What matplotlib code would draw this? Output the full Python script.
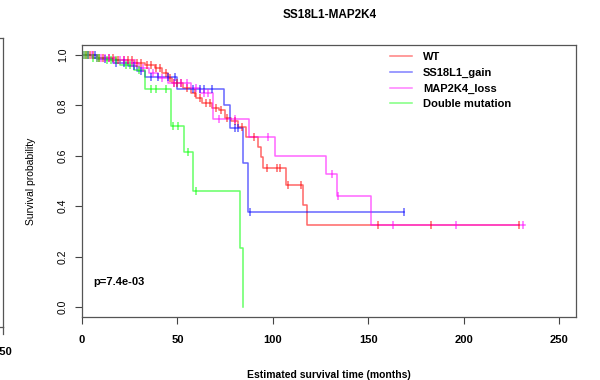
"""Kaplan-Meier curves for SS18L1 / MAP2K4 groups."""

import matplotlib

matplotlib.use("Agg")
import matplotlib.pyplot as plt
import numpy as np
from matplotlib.lines import Line2D

plt.rcParams["font.family"] = ["Liberation Sans", "DejaVu Sans"]

# ---- data (months, survival after each drop) ----
wt_times = [0, 8, 18, 27, 33, 38, 42, 45, 47, 53, 57, 60, 63, 68, 72, 75, 78, 82, 86, 92, 94, 95, 107, 116, 118]
wt_surv = [1.0, 0.99, 0.98, 0.97, 0.96, 0.95, 0.93, 0.91, 0.89, 0.87, 0.85, 0.83, 0.81, 0.79, 0.78, 0.75,
           0.74, 0.715, 0.675, 0.635, 0.595, 0.55, 0.485, 0.405, 0.325]
wt_end = 229
wt_cens = [2, 4, 6, 9, 11, 14, 16, 19, 22, 24, 26, 29, 31, 34, 36, 39, 41, 44, 46, 48, 50, 52, 55, 59,
           62, 65, 67, 70, 73, 76, 80, 84, 90, 97, 102, 104, 108, 115, 155, 183, 229]

gain_times = [0, 8, 16, 24, 29, 33, 50, 74.4, 77.6, 84.4, 87]
gain_surv = [1.0, 0.985, 0.97, 0.955, 0.935, 0.913, 0.865, 0.80, 0.71, 0.57, 0.377]
gain_end = 169
gain_cens = [3, 7, 12, 18, 22, 27, 31, 36, 40, 45, 49, 58, 62, 64, 68, 80, 82, 88, 169]

loss_times = [0, 6, 15, 24, 30, 35, 40, 45, 57, 62, 68.7, 87.5, 101, 128, 133.6, 151.5]
loss_surv = [1.0, 0.99, 0.98, 0.97, 0.95, 0.93, 0.91, 0.89, 0.87, 0.85, 0.746, 0.675, 0.60, 0.528, 0.44, 0.325]
loss_end = 232
loss_cens = [1, 3, 5, 8, 10, 12, 14, 17, 20, 22, 26, 28, 32, 37, 42, 48, 52, 55, 60, 64, 66, 72, 80,
             97.5, 131, 134, 163, 196, 231]

dbl_times = [0, 5, 12, 20, 27, 33, 46.6, 53.5, 58, 82.8, 84.4]
dbl_surv = [1.0, 0.99, 0.98, 0.96, 0.94, 0.865, 0.718, 0.615, 0.46, 0.234, 0.0]
dbl_end = 84.4
dbl_cens = [1, 2, 3, 6, 8, 9, 13, 15, 18, 23, 25, 30, 36, 39, 44, 47.7, 50.3, 55.6, 59.7]

groups = ["WT", "SS18L1_gain", "MAP2K4_loss", "Double mutation"]
colors = ["#FF0000", "#0000FF", "#FF00FF", "#00FF00"]
p_text = "p=7.4e-03"
x_ticks = [0, 50, 100, 150, 200, 250]
y_ticks = [0.0, 0.2, 0.4, 0.6, 0.8, 1.0]

series = [
    (wt_times, wt_surv, wt_end, wt_cens),
    (gain_times, gain_surv, gain_end, gain_cens),
    (loss_times, loss_surv, loss_end, loss_cens),
    (dbl_times, dbl_surv, dbl_end, dbl_cens),
]

W, H = 600, 380
fig = plt.figure(figsize=(W / 100, H / 100), dpi=100)
ax = fig.add_axes([82 / W, 1 - 317 / H, (576 - 82) / W, (317 - 45) / H])

for (times, surv, end, cens), col in zip(series, colors):
    t = np.array(list(times) + [end], dtype=float)
    s = np.array(list(surv) + [surv[-1]], dtype=float)
    ax.step(t, s, where="post", color=col, lw=1.1, alpha=0.6, zorder=2)
    c = np.array(cens, dtype=float)
    idx = np.searchsorted(np.array(times, dtype=float), c, side="right") - 1
    ax.plot(c, np.array(surv)[idx], ls="none", marker="|", ms=6, mew=1.1,
            color=col, alpha=0.6, zorder=3)

ax.set_xlim(0, 258.9)
ax.set_ylim(-0.04, 1.04)
ax.set_xticks(x_ticks)
ax.set_xticklabels([str(v) for v in x_ticks], fontsize=8, fontweight="bold")
ax.set_yticks(y_ticks)
ax.set_yticklabels([f"{v:.1f}" for v in y_ticks], fontsize=7.5, rotation=90, va="center")
ax.tick_params(axis="x", length=5, width=0.8, color="#444444", pad=8)
ax.tick_params(axis="y", length=5, width=0.8, color="#444444", pad=5)
for sp in ax.spines.values():
    sp.set_color("#555555")
    sp.set_linewidth(0.9)

ax.set_xlabel("Estimated survival time (months)", fontsize=7.5, fontweight="bold", labelpad=18)
ax.set_ylabel("Survival probability", fontsize=7.5, labelpad=16)
ax.text(5.8, 0.10, p_text, fontsize=8, fontweight="bold", va="center", ha="left")

handles = [Line2D([], [], color=c, lw=1.1, alpha=0.5) for c in colors]
ax.legend(handles, groups, loc="upper left", bbox_to_anchor=(0.623, 0.975), frameon=False,
          prop={"weight": "bold", "size": 8}, borderpad=0, borderaxespad=0,
          handlelength=2.0, handletextpad=1.0, labelspacing=0.52)

fig.text(330 / W, 1 - 15 / H, "SS18L1-MAP2K4", ha="center", va="center",
         fontsize=8.5, fontweight="bold")

# edge of the neighbouring panel, cut off on the left
def px(x, y):
    return x / W, 1 - y / H

for (x0, y0), (x1, y1) in [((0, 38), (3, 38)), ((3, 38), (3, 327)), ((0, 327), (3, 327)), ((3, 327), (3, 334))]:
    a, b = px(x0, y0)
    c, d = px(x1, y1)
    fig.add_artist(Line2D([a, c], [b, d], color="#555555", lw=0.9))
fig.text(3 / W, 1 - 352 / H, "250", ha="center", va="center", fontsize=8, fontweight="bold")

fig.savefig("out.png", dpi=100)
